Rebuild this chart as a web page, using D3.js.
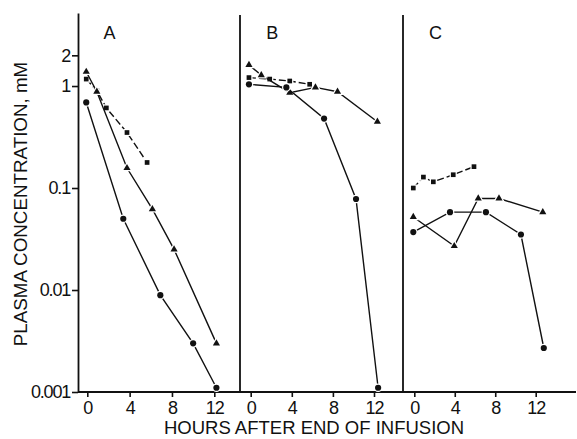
<!DOCTYPE html>
<html>
<head>
<meta charset="utf-8">
<script src="https://cdn.jsdelivr.net/npm/d3@7"></script>
<style>
  body { margin: 0; background: #fff; }
  svg { display: block; }
  text { font-family: "Liberation Sans", Arial, sans-serif; fill: #111; }
</style>
</head>
<body>
<svg id="chart"></svg>
<script>
// values (hours after end of infusion, plasma conc. mM)
const panels = ["A", "B", "C"];
const yTicks = [0.001, 0.01, 0.1, 1, 2];
const yTickLabels = ["0.001", "0.01", "0.1", "1", "2"];
const xTicks = [0, 4, 8, 12];

// panel A
const hoursA_sq = [-0.1, 0.9, 1.8, 3.75, 5.65];
const concA_sq = [1.17, 0.9, 0.61, 0.35, 0.178];
const hoursA_tri = [-0.1, 0.9, 3.75, 6.15, 8.2, 12.2];
const concA_tri = [1.38, 0.88, 0.157, 0.062, 0.025, 0.003];
const hoursA_ci = [-0.1, 3.4, 6.9, 10.0, 12.2];
const concA_ci = [0.69, 0.05, 0.0089, 0.003, 0.0011];

// panel B
const hoursB_sq = [-0.17, 1.85, 3.8, 5.74];
const concB_sq = [1.21, 1.17, 1.12, 1.04];
const hoursB_tri = [-0.17, 1.03, 3.8, 6.3, 8.45, 12.33];
const concB_tri = [1.61, 1.28, 0.86, 0.97, 0.88, 0.447];
const hoursB_ci = [-0.17, 3.47, 7.14, 10.25, 12.4];
const concB_ci = [1.04, 0.97, 0.48, 0.078, 0.0011];

// panel C
const hoursC_sq = [-0.1, 0.9, 1.88, 3.85, 5.9];
const concC_sq = [0.1, 0.128, 0.115, 0.135, 0.162];
const hoursC_tri = [-0.1, 3.95, 6.32, 8.37, 12.7];
const concC_tri = [0.052, 0.027, 0.079, 0.079, 0.058];
const hoursC_ci = [-0.1, 3.53, 7.08, 10.54, 12.8];
const concC_ci = [0.037, 0.058, 0.058, 0.035, 0.0027];

const series = [
  { panel: "A", shape: "square", h: hoursA_sq, v: concA_sq },
  { panel: "A", shape: "triangle", h: hoursA_tri, v: concA_tri },
  { panel: "A", shape: "circle", h: hoursA_ci, v: concA_ci },
  { panel: "B", shape: "square", h: hoursB_sq, v: concB_sq },
  { panel: "B", shape: "triangle", h: hoursB_tri, v: concB_tri },
  { panel: "B", shape: "circle", h: hoursB_ci, v: concB_ci },
  { panel: "C", shape: "square", h: hoursC_sq, v: concC_sq },
  { panel: "C", shape: "triangle", h: hoursC_tri, v: concC_tri },
  { panel: "C", shape: "circle", h: hoursC_ci, v: concC_ci },
];

const width = 577;
const height = 439;
const baseY = 392;
const topY = 13;

// pixel layout of each panel: where hour 0 and hour 12 sit, and the panel edges
const layout = {
  A: { x0: 87.3, x12: 214.3, left: 78, right: 240 },
  B: { x0: 250.7, x12: 374, left: 240, right: 403 },
  C: { x0: 414.3, x12: 535.7, left: 403, right: 576 },
};

const svg = d3.select("#chart")
  .attr("width", width)
  .attr("height", height);

const y = d3.scaleLog().domain([0.001, 5.2]).range([baseY, topY]);

const xs = {};
panels.forEach(p => {
  xs[p] = d3.scaleLinear().domain([0, 12]).range([layout[p].x0, layout[p].x12]);
});

// left axis
const yAxis = svg.append("g")
  .attr("transform", `translate(${layout.A.left},0)`)
  .call(d3.axisLeft(y)
    .tickValues(yTicks)
    .tickFormat((d, i) => yTickLabels[i])
    .tickSize(6)
    .tickSizeOuter(0)
    .tickPadding(2));
yAxis.select(".domain").attr("stroke", "#111").attr("stroke-width", 1.8);
yAxis.selectAll(".tick line").attr("stroke", "#111").attr("stroke-width", 1.6);
yAxis.selectAll(".tick text")
  .attr("font-family", "Liberation Sans, Arial, sans-serif")
  .attr("font-size", 18)
  .attr("letter-spacing", "-1.2px")
  .attr("fill", "#111");

// panel dividers
svg.selectAll(".divider")
  .data(["B", "C"])
  .join("line")
  .attr("class", "divider")
  .attr("x1", p => layout[p].left)
  .attr("x2", p => layout[p].left)
  .attr("y1", 15)
  .attr("y2", baseY)
  .attr("stroke", "#111")
  .attr("stroke-width", 1.8);

// baseline
svg.append("line")
  .attr("x1", layout.A.left)
  .attr("x2", layout.C.right)
  .attr("y1", baseY)
  .attr("y2", baseY)
  .attr("stroke", "#111")
  .attr("stroke-width", 1.8);

// bottom axes
panels.forEach(p => {
  const ax = svg.append("g")
    .attr("transform", `translate(0,${baseY})`)
    .call(d3.axisBottom(xs[p]).tickValues(xTicks).tickSize(5).tickPadding(4));
  ax.select(".domain").remove();
  ax.selectAll(".tick line").attr("stroke", "#111").attr("stroke-width", 1.6);
  ax.selectAll(".tick text")
    .attr("font-family", "Liberation Sans, Arial, sans-serif")
    .attr("font-size", 18)
    .attr("letter-spacing", "-1px")
    .attr("fill", "#111");

  svg.append("text")
    .attr("x", xs[p](2.1))
    .attr("y", 39)
    .attr("text-anchor", "middle")
    .attr("font-size", 18)
    .text(p);
});

// titles
svg.append("text")
  .attr("x", 314)
  .attr("y", 434)
  .attr("text-anchor", "middle")
  .attr("font-size", 18.5)
  .text("HOURS AFTER END OF INFUSION");

svg.append("text")
  .attr("transform", "translate(27,204) rotate(-90)")
  .attr("text-anchor", "middle")
  .attr("font-size", 18.8)
  .text("PLASMA CONCENTRATION, mM");

// series
const line = d3.line()
  .x(d => d.x)
  .y(d => d.y);

const symbolType = {
  circle: d3.symbolCircle,
  square: d3.symbolSquare,
  triangle: d3.symbolTriangle,
};
const symbolSize = { circle: 30, square: 22, triangle: 22 };

series.forEach(s => {
  const pts = s.h.map((h, i) => ({ x: xs[s.panel](h), y: y(s.v[i]) }));
  svg.append("path")
    .datum(pts)
    .attr("d", line)
    .attr("fill", "none")
    .attr("stroke", "#111")
    .attr("stroke-width", 1.4)
    .attr("stroke-dasharray", s.shape === "square" ? "7,3" : null);

  svg.append("g")
    .selectAll("path")
    .data(pts)
    .join("path")
    .attr("transform", d => `translate(${d.x},${d.y})`)
    .attr("d", d3.symbol().type(symbolType[s.shape]).size(symbolSize[s.shape]))
    .attr("fill", "#111")
    .attr("stroke", "#fff")
    .attr("stroke-width", 2.5)
    .attr("paint-order", "stroke");
});
</script>
</body>
</html>
